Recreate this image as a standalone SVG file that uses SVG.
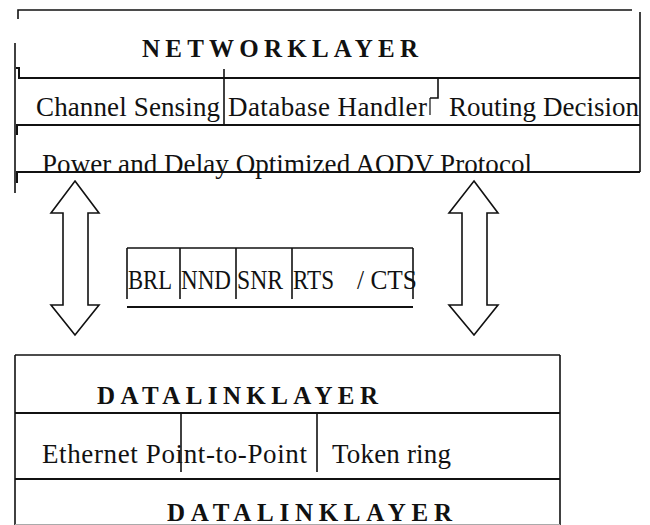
<svg xmlns="http://www.w3.org/2000/svg" width="650" height="525" viewBox="0 0 650 525">
  <style>
    .ln { fill: none; stroke: #111; stroke-width: 1.6; }
    .thick { fill: none; stroke: #111; stroke-width: 2; }
    .thin { fill: none; stroke: #111; stroke-width: 1.2; }
    .arrow { fill: #fff; stroke: #111; stroke-width: 1.6; stroke-linejoin: miter; }
    .txt { font-family: "Liberation Serif", "Times New Roman", serif; font-size: 27px; fill: #111; }
    .hdr { font-family: "Liberation Serif", "Times New Roman", serif; font-size: 25px; font-weight: bold; fill: #111; }
  </style>
  <rect width="650" height="525" fill="#fff"/>

  <!-- Network layer block -->
  <g id="network-layer">
    <polyline class="ln" points="18,19 18,10 632,10"/>
    <line class="ln" x1="640" y1="12" x2="640" y2="172"/>
    <line class="ln" x1="15" y1="43" x2="15" y2="193"/>
    <polyline class="thick" points="16,68 19,68 19,78 640,78"/>
    <polyline class="thick" points="17,135 17,125 640,125"/>
    <polyline class="thick" points="17,183 17,172 640,172"/>
    <line class="ln" x1="224" y1="69" x2="224" y2="125"/>
    <polyline class="ln" points="438,78 438,98 430,98"/>
    <line class="thin" x1="430" y1="98" x2="430" y2="115"/>
    <text class="hdr" x="142" y="57" textLength="276" lengthAdjust="spacing">NETWORKLAYER</text>
    <text class="txt" x="36" y="116" textLength="184">Channel Sensing</text>
    <text class="txt" x="228" y="116" textLength="199">Database Handler</text>
    <text class="txt" x="449" y="116" textLength="190">Routing Decision</text>
    <text class="txt" x="42" y="173" textLength="490">Power and Delay Optimized AODV Protocol</text>
  </g>

  <!-- Two-way links between the layers -->
  <g id="connectors">
    <polygon class="arrow" points="75,181 99,213 88,213 88,305 99,305 75,335 51,305 63,305 63,213 51,213"/>
    <polygon class="arrow" points="474,181 498,213 487,213 487,305 498,305 474,335 449,305 462,305 462,213 449,213"/>
  </g>

  <!-- Control fields -->
  <g id="control-fields">
    <line class="ln" x1="127" y1="248" x2="413" y2="248"/>
    <line class="ln" x1="127" y1="248" x2="127" y2="299"/>
    <line class="ln" x1="180" y1="248" x2="180" y2="299"/>
    <line class="ln" x1="236" y1="248" x2="236" y2="299"/>
    <line class="ln" x1="292" y1="248" x2="292" y2="299"/>
    <line class="ln" x1="413" y1="248" x2="413" y2="299"/>
    <line class="thick" x1="127" y1="307" x2="413" y2="307"/>
    <text class="txt" x="128" y="289" textLength="44" lengthAdjust="spacingAndGlyphs">BRL</text>
    <text class="txt" x="181" y="289" textLength="50" lengthAdjust="spacingAndGlyphs">NND</text>
    <text class="txt" x="237" y="289" textLength="46" lengthAdjust="spacingAndGlyphs">SNR</text>
    <text class="txt" x="293" y="289"><tspan textLength="41" lengthAdjust="spacingAndGlyphs">RTS</tspan><tspan x="357" textLength="60" lengthAdjust="spacingAndGlyphs">/ CTS</tspan></text>
  </g>

  <!-- Data link layer block -->
  <g id="datalink-layer">
    <line class="ln" x1="15" y1="355" x2="560" y2="355"/>
    <line class="ln" x1="15" y1="355" x2="15" y2="525"/>
    <line class="ln" x1="560" y1="355" x2="560" y2="525"/>
    <line class="thick" x1="15" y1="413" x2="560" y2="413"/>
    <line class="thick" x1="15" y1="479" x2="560" y2="479"/>
    <line x1="15" y1="524.5" x2="560" y2="524.5" stroke="#aaa" stroke-width="1"/>
    <line class="ln" x1="181" y1="413" x2="181" y2="472"/>
    <line class="ln" x1="317" y1="413" x2="317" y2="472"/>
    <text class="hdr" x="97" y="404" textLength="281" lengthAdjust="spacing">DATALINKLAYER</text>
    <text class="txt" x="42" y="463" textLength="265">Ethernet Point-to-Point</text>
    <text class="txt" x="332" y="463" textLength="119">Token ring</text>
    <text class="hdr" x="167" y="521" textLength="285" lengthAdjust="spacing">DATALINKLAYER</text>
  </g>
</svg>
